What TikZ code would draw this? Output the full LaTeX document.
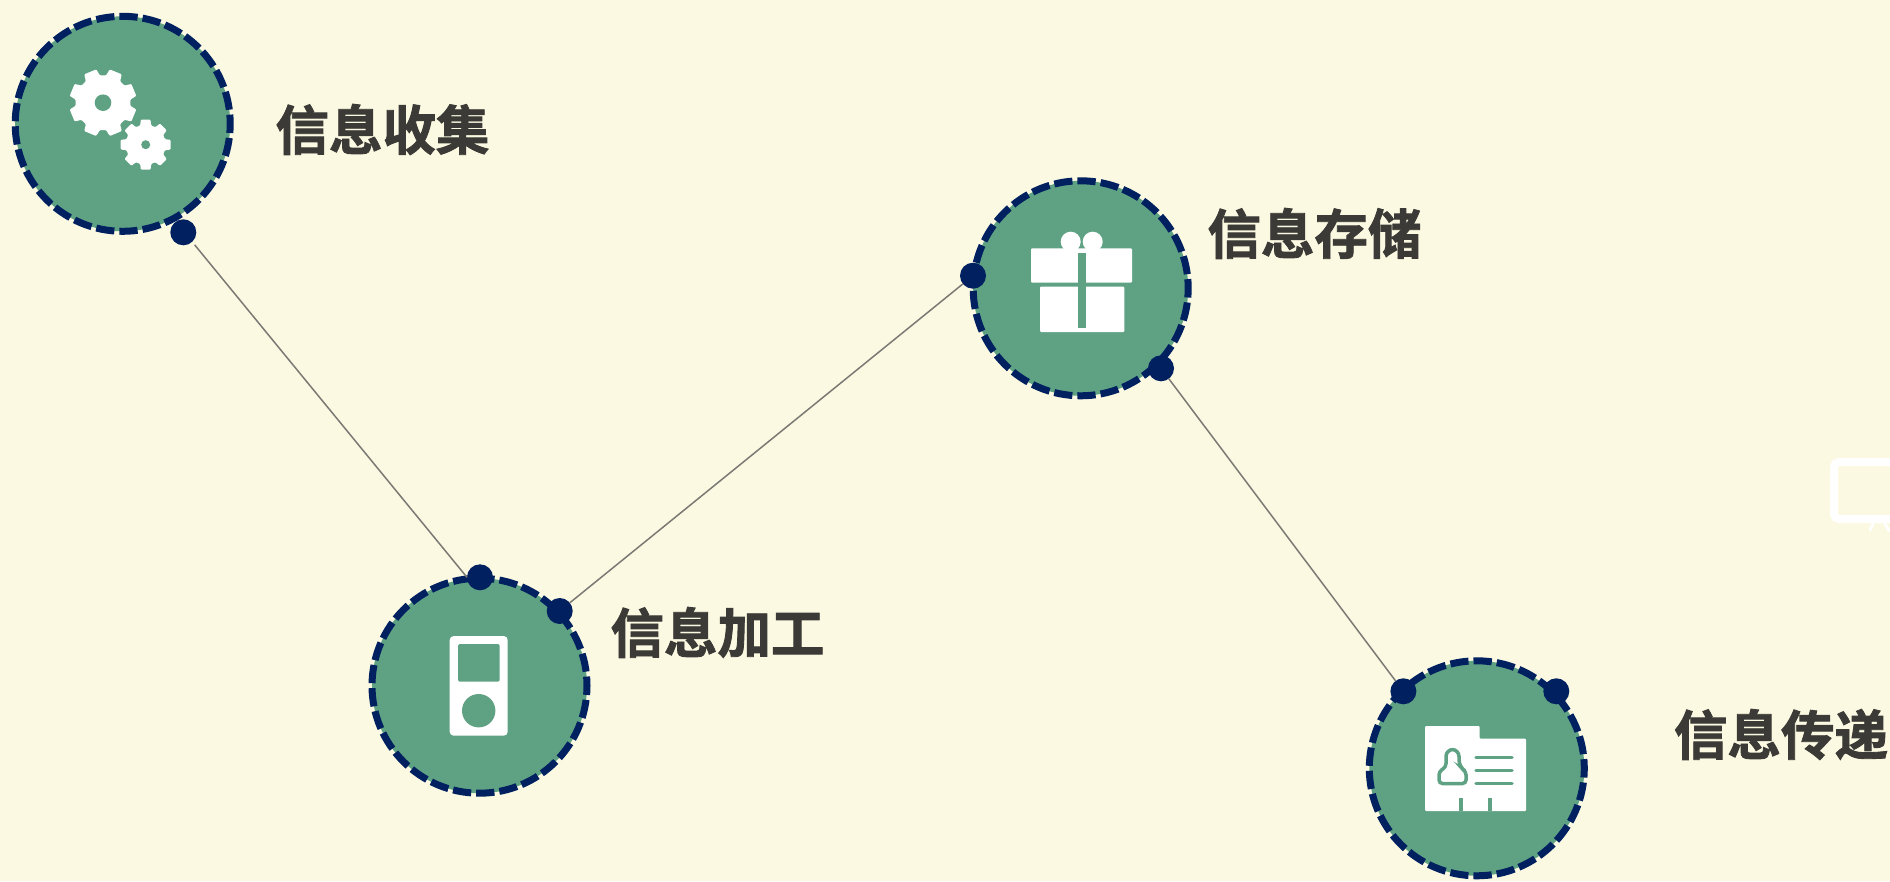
\documentclass[tikz,border=0pt]{standalone}
\usepackage{fontspec}
\newfontfamily\cjkbold[FakeBold=1.6]{Noto Sans CJK SC Bold}
\definecolor{pagebg}{HTML}{FCF9E2}
\definecolor{leaf}{HTML}{5FA283}
\definecolor{navy}{HTML}{002060}
\definecolor{inkc}{HTML}{3B3A36}
\definecolor{linkc}{HTML}{7A7974}
\tikzset{
  stage/.style={circle,draw=navy,fill=leaf,line width=7pt,minimum size=215pt,inner sep=0pt,outer sep=0pt,
    dash pattern=on 18.3pt off 4.99pt,dash phase=9.15pt},
  pin/.style={circle,fill=navy,minimum size=26pt,inner sep=0pt,outer sep=0pt},
  link/.style={draw=linkc,line width=1.5pt},
  caption/.style={anchor=base west,inner sep=0pt,outer sep=0pt,text=inkc,font=\cjkbold\fontsize{53.5}{54}\selectfont},
}
\newcommand{\gearicon}[6]{%
  \begin{scope}[shift={(#1,#2)}]
    \fill[white,rounded corners=1pt] ({#6-16}:#4)
      \foreach \a in {0,45,...,315} {
        -- ({\a+#6-16}:#4) -- ({\a+#6-11}:#3) -- ({\a+#6+11}:#3) -- ({\a+#6+16}:#4)
      } -- cycle;
    \fill[leaf] (0,0) circle (#5);
  \end{scope}}
\begin{document}
\begin{tikzpicture}[x=1pt,y=-1pt]
\useasboundingbox (0,0) rectangle (1890,881);
\fill[pagebg] (0,0) rectangle (1890,881);
% partial monitor icon at the right edge
\draw[white,line width=8pt,rounded corners=5pt] (1890,462) -- (1834,462) -- (1834,519) -- (1890,519);
\draw[white,line width=3pt,line cap=round] (1873,524) -- (1870,530);
\draw[white,line width=3pt,line cap=round] (1885,524) -- (1889,531);
% stages
\node[stage] (collect) at (122.7,123.8) {};
\node[stage] (process) at (479.5,685.7) {};
\node[stage] (store) at (1080.7,288.3) {};
\node[stage] (send) at (1476.8,768.3) {};
% pins
\node[pin] (p1) at (183.3,232.3) {};
\node[pin] (p2) at (480,577.3) {};
\node[pin] (p3) at (559.7,611) {};
\node[pin] (p4) at (973,275.7) {};
\node[pin] (p5) at (1161,368.3) {};
\node[pin] (p6) at (1403.4,691.3) {};
\node[pin] (p7) at (1556.3,691.3) {};
% connectors
\draw[link,shorten <=4pt] (p1.-47) -- (p2.180);
\draw[link] (p3) -- (p4);
\draw[link] (p5) -- (p6);
% captions
\node[caption] (t1) at (275.5,150) {信息收集};
\node[caption] (t2) at (610.5,653) {信息加工};
\node[caption] (t3) at (1207.5,254) {信息存储};
\node[caption] (t4) at (1674,755) {信息传递};
% gears
\gearicon{103}{102.7}{34}{27.5}{8.3}{22.5}
\gearicon{145.7}{144.7}{25.5}{20}{4.5}{0}
% player
\fill[white,rounded corners=4pt] (449.7,636) rectangle (507.7,735.7);
\fill[leaf,rounded corners=1.5pt] (458,644) rectangle (499.7,681.7);
\fill[leaf] (478.7,710.7) circle (16.7);
% gift
\fill[white] (1070.7,241.7) circle (10);
\fill[white] (1092.7,241.7) circle (10);
\fill[white,rounded corners=1pt] (1031,248.3) rectangle (1132,282.7);
\fill[white,rounded corners=1pt] (1040,286.7) rectangle (1124.3,332);
\fill[leaf] (1078,252.7) rectangle (1086,328.3);
% card
\fill[white,rounded corners=1pt] (1425,726) -- (1479.5,726) -- (1479.5,738.7) -- (1526,738.7) -- (1526,811) -- (1425,811) -- cycle;
\draw[leaf,line width=3.5pt,line cap=round] (1476,757.7) -- (1512,757.7);
\draw[leaf,line width=3.5pt,line cap=round] (1476,770.3) -- (1512,770.3);
\draw[leaf,line width=3.5pt,line cap=round] (1476,783.3) -- (1512,783.3);
\draw[leaf,line width=3.5pt] (1446,767) [rounded corners=7pt] -- (1446,749.5) -- (1459,749.5) -- (1459,767) [rounded corners=3.5pt] -- (1466,771.5) -- (1466,783.5) -- (1439,783.5) -- (1439,771.5) -- cycle;
\fill[leaf] (1459.3,798.3) rectangle (1462.7,811);
\fill[leaf] (1488.3,798.3) rectangle (1491.7,811);
\end{tikzpicture}
\end{document}
